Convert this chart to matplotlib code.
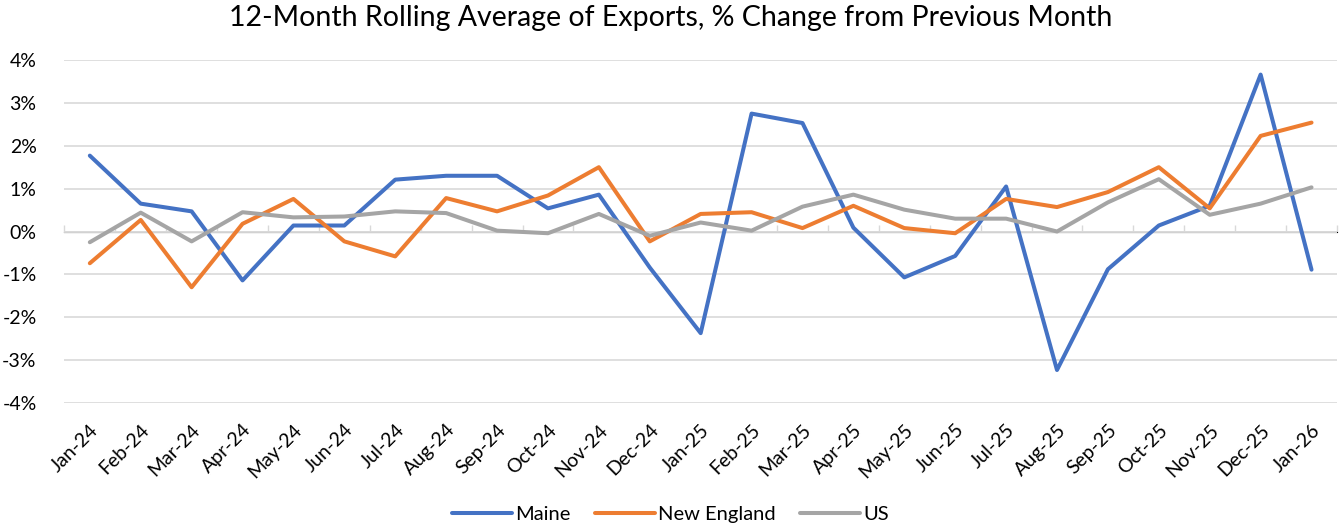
import matplotlib.pyplot as plt
import numpy as np
from matplotlib.ticker import FuncFormatter, MultipleLocator

# Data (% change, 12-month rolling average)
months = ["Jan-24", "Feb-24", "Mar-24", "Apr-24", "May-24", "Jun-24", "Jul-24",
          "Aug-24", "Sep-24", "Oct-24", "Nov-24", "Dec-24", "Jan-25", "Feb-25",
          "Mar-25", "Apr-25", "May-25", "Jun-25", "Jul-25", "Aug-25", "Sep-25",
          "Oct-25", "Nov-25", "Dec-25", "Jan-26"]

maine = [1.77, 0.65, 0.47, -1.14, 0.14, 0.14, 1.21, 1.30, 1.30, 0.54, 0.86, -0.84,
         -2.37, 2.75, 2.53, 0.09, -1.07, -0.57, 1.05, -3.23, -0.88, 0.14, 0.60,
         3.66, -0.89]
new_england = [-0.74, 0.27, -1.30, 0.18, 0.76, -0.23, -0.58, 0.78, 0.47, 0.84, 1.50,
               -0.23, 0.41, 0.45, 0.08, 0.60, 0.08, -0.04, 0.76, 0.57, 0.92, 1.50,
               0.54, 2.23, 2.54]
us = [-0.25, 0.44, -0.23, 0.45, 0.33, 0.35, 0.47, 0.43, 0.02, -0.04, 0.41, -0.10,
      0.21, 0.02, 0.58, 0.86, 0.51, 0.30, 0.30, 0.00, 0.68, 1.22, 0.39, 0.65, 1.03]

plt.rcParams['font.family'] = ['Lato', 'DejaVu Sans']

fig = plt.figure(figsize=(13.41, 5.31), dpi=100)
ax = fig.add_axes([0.048, 0.241, 0.949, 0.646])

x = np.arange(len(months))
ax.plot(x, maine, color="#4472C4", lw=2.9, label="Maine", solid_joinstyle="round",
        solid_capstyle="round")
ax.plot(x, new_england, color="#ED7D31", lw=2.9, label="New England",
        solid_joinstyle="round", solid_capstyle="round")
ax.plot(x, us, color="#A5A5A5", lw=2.9, label="US", solid_joinstyle="round",
        solid_capstyle="round")

ax.set_xlim(-0.5, len(months) - 0.5)
ax.set_ylim(-4, 4)
ax.yaxis.set_major_locator(MultipleLocator(1))
ax.yaxis.set_major_formatter(FuncFormatter(lambda v, p: f"{v:.0f}%"))
ax.grid(axis="y", color="#D9D9D9", lw=1.2)
ax.set_axisbelow(True)
for s in ax.spines.values():
    s.set_visible(False)
ax.tick_params(axis="y", length=0, labelsize=14, pad=20)
ax.set_xticks(x)
ax.set_xticklabels(months, rotation=45, ha="right", rotation_mode="anchor", fontsize=14)
ax.tick_params(axis="x", length=0, pad=13)

# category axis line with boundary ticks drawn at 0%
ax.axhline(0, color="#D9D9D9", lw=1.2, zorder=1)
sec = ax.secondary_xaxis(0.5)
sec.set_xticks(np.arange(-0.5, len(months), 1))
sec.set_xticklabels([])
sec.tick_params(axis="x", direction="out", length=5, color="#D9D9D9", width=1)
sec.spines["bottom"].set_visible(False)

fig.suptitle("12-Month Rolling Average of Exports, % Change from Previous Month",
             fontsize=20.5, y=0.99)

fig.legend(loc="lower center", ncol=3, frameon=False, fontsize=14.5,
           bbox_to_anchor=(0.5, -0.02), handlelength=3.0, handletextpad=0.15,
           columnspacing=1.2)

fig.savefig("out.png", dpi=100)
